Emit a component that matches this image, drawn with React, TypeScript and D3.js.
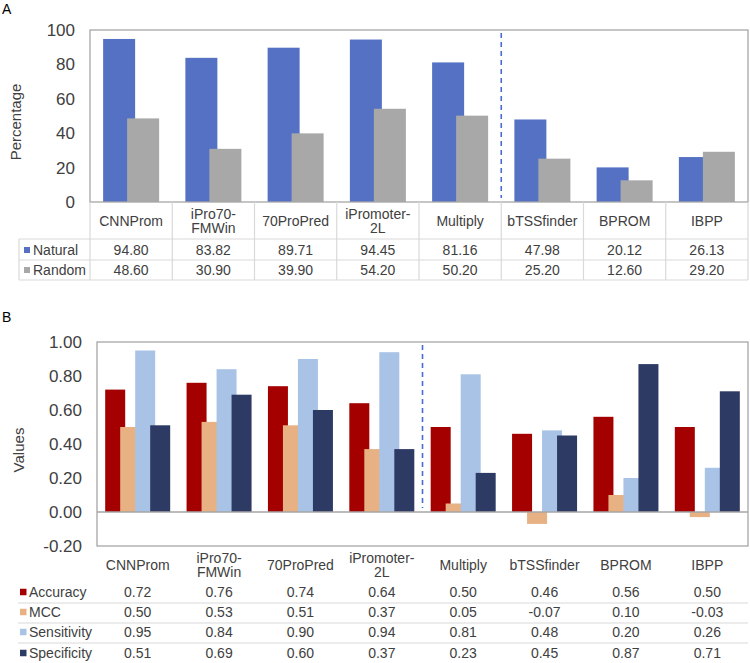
import { useEffect, useRef } from "react";
import { select, scaleBand, scaleLinear, axisLeft } from "d3";

const WIDTH = 750;
const HEIGHT = 663;
const FONT = "Arial, 'Liberation Sans', sans-serif";
const TEXT = "#404040";
const BORDER = "#a6a6a6";
const TABLE_LINE = "#d9d9d9";

// categories shared by both panels
const categories = [
  "CNNProm",
  "iPro70-FMWin",
  "70ProPred",
  "iPromoter-2L",
  "Multiply",
  "bTSSfinder",
  "BPROM",
  "IBPP",
];

// panel A
const seriesA = ["Natural", "Random"];
const natural = [94.8, 83.82, 89.71, 94.45, 81.16, 47.98, 20.12, 26.13];
const random = [48.6, 30.9, 39.9, 54.2, 50.2, 25.2, 12.6, 29.2];
const ticksA = [0, 20, 40, 60, 80, 100];
const colorsA = ["#5571c4", "#a9a8a9"];

// panel B
const seriesB = ["Accuracy", "MCC", "Sensitivity", "Specificity"];
const accuracy = [0.72, 0.76, 0.74, 0.64, 0.5, 0.46, 0.56, 0.5];
const mcc = [0.5, 0.53, 0.51, 0.37, 0.05, -0.07, 0.1, -0.03];
const sensitivity = [0.95, 0.84, 0.9, 0.94, 0.81, 0.48, 0.2, 0.26];
const specificity = [0.51, 0.69, 0.6, 0.37, 0.23, 0.45, 0.87, 0.71];
const ticksB = [-0.2, 0, 0.2, 0.4, 0.6, 0.8, 1.0];
const colorsB = ["#a40000", "#e7b184", "#a8c3e6", "#2d3a63"];

type PanelConfig = {
  letter: string;
  letterY: number;
  series: string[];
  values: number[][];
  colors: string[];
  domain: [number, number];
  ticks: number[];
  tickFormat: (d: number) => string;
  valueFormat: (d: number) => string;
  left: number;
  right: number;
  top: number;
  bottom: number;
  barWidth: number;
  barStep: number;
  yTitle: string;
  yTitleX: number;
  dividerAt: number;
  labelY: number;
  rowY: number[];
  rowLines: number[];
  tableLeft: number;
  verticals: boolean;
  keyX: number;
  keySize: number;
  keyTextX: number;
};

const drawPanel = (svg: any, cfg: PanelConfig) => {
  const y = scaleLinear(cfg.domain, [cfg.bottom, cfg.top]);
  const x = scaleBand(categories, [cfg.left, cfg.right]);
  const g = svg.append("g");

  // 面板字母
  g.append("text")
    .text(cfg.letter)
    .attr("x", 2)
    .attr("y", cfg.letterY)
    .attr("font-size", 14)
    .attr("font-family", FONT)
    .attr("fill", "#000");

  // 柱子（后画的系列盖在前面的上面）
  const groupWidth = (cfg.series.length - 1) * cfg.barStep + cfg.barWidth;
  cfg.series.forEach((s, si) => {
    g.append("g")
      .selectAll("rect")
      .data(cfg.values[si])
      .enter()
      .append("rect")
      .attr(
        "x",
        (d: number, i: number) =>
          (x(categories[i]) as number) + x.bandwidth() / 2 - groupWidth / 2 + si * cfg.barStep
      )
      .attr("y", (d: number) => y(Math.max(d, 0)))
      .attr("width", cfg.barWidth)
      .attr("height", (d: number) => Math.abs(y(d) - y(0)))
      .attr("fill", cfg.colors[si]);
  });

  // 零线
  if (cfg.domain[0] < 0) {
    g.append("line")
      .attr("x1", cfg.left)
      .attr("x2", cfg.right)
      .attr("y1", y(0))
      .attr("y2", y(0))
      .attr("stroke", BORDER)
      .attr("stroke-width", 1.5);
  }

  // 绘图区边框
  g.append("rect")
    .attr("x", cfg.left)
    .attr("y", cfg.top)
    .attr("width", cfg.right - cfg.left)
    .attr("height", cfg.bottom - cfg.top)
    .attr("fill", "none")
    .attr("stroke", BORDER)
    .attr("stroke-width", 1.3);

  // 分隔虚线
  const dx = x(categories[cfg.dividerAt]) as number;
  g.append("line")
    .attr("x1", dx)
    .attr("x2", dx)
    .attr("y1", cfg.top + 3)
    .attr("y2", y(0) - 4)
    .attr("stroke", "#4a6cd0")
    .attr("stroke-width", 1.6)
    .attr("stroke-dasharray", "5,4");

  // y 轴
  const axis = g
    .append("g")
    .attr("transform", `translate(${cfg.left},0)`)
    .call(
      axisLeft(y)
        .tickValues(cfg.ticks)
        .tickSize(0)
        .tickPadding(15)
        .tickFormat((d: any) => cfg.tickFormat(d))
    );
  axis.select(".domain").remove();
  axis
    .selectAll("text")
    .attr("font-size", 17)
    .attr("font-family", FONT)
    .attr("fill", TEXT);

  g.append("text")
    .text(cfg.yTitle)
    .attr("transform", `translate(${cfg.yTitleX},${(cfg.top + cfg.bottom) / 2 + 6}) rotate(-90)`)
    .attr("text-anchor", "middle")
    .attr("dominant-baseline", "central")
    .attr("font-size", 15)
    .attr("font-family", FONT)
    .attr("fill", TEXT);

  // 表格线
  cfg.rowLines.forEach((ly) => {
    g.append("line")
      .attr("x1", cfg.tableLeft)
      .attr("x2", cfg.right)
      .attr("y1", ly)
      .attr("y2", ly)
      .attr("stroke", TABLE_LINE)
      .attr("stroke-width", 1.2);
  });
  if (cfg.verticals) {
    const lastLine = cfg.rowLines[cfg.rowLines.length - 1];
    const bounds = categories.map((c) => x(c) as number).concat([cfg.right]);
    bounds.forEach((bx) => {
      g.append("line")
        .attr("x1", bx)
        .attr("x2", bx)
        .attr("y1", cfg.bottom)
        .attr("y2", lastLine)
        .attr("stroke", TABLE_LINE)
        .attr("stroke-width", 1.2);
    });
    g.append("line")
      .attr("x1", cfg.tableLeft)
      .attr("x2", cfg.tableLeft)
      .attr("y1", cfg.rowLines[0])
      .attr("y2", lastLine)
      .attr("stroke", TABLE_LINE)
      .attr("stroke-width", 1.2);
  }

  // 类别标签（按连字符换行）
  categories.forEach((c) => {
    const lines = c.split(/(?<=-)/);
    const cx = (x(c) as number) + x.bandwidth() / 2;
    lines.forEach((line, li) => {
      g.append("text")
        .text(line)
        .attr("x", cx)
        .attr("y", cfg.labelY + (li - (lines.length - 1) / 2) * 14.5)
        .attr("text-anchor", "middle")
        .attr("dominant-baseline", "central")
        .attr("font-size", 14)
        .attr("font-family", FONT)
        .attr("fill", TEXT);
    });
  });

  // 数据行
  cfg.series.forEach((s, si) => {
    const ry = cfg.rowY[si];
    g.append("rect")
      .attr("x", cfg.keyX)
      .attr("y", ry - cfg.keySize / 2)
      .attr("width", cfg.keySize)
      .attr("height", cfg.keySize)
      .attr("fill", cfg.colors[si]);
    g.append("text")
      .text(s)
      .attr("x", cfg.keyTextX)
      .attr("y", ry)
      .attr("dominant-baseline", "central")
      .attr("font-size", 14)
      .attr("font-family", FONT)
      .attr("fill", TEXT);
    cfg.values[si].forEach((v, i) => {
      g.append("text")
        .text(cfg.valueFormat(v))
        .attr("x", (x(categories[i]) as number) + x.bandwidth() / 2)
        .attr("y", ry)
        .attr("text-anchor", "middle")
        .attr("dominant-baseline", "central")
        .attr("font-size", 14)
        .attr("font-family", FONT)
        .attr("fill", TEXT);
    });
  });
};

const App = () => {
  const ref = useRef<SVGSVGElement>(null);

  useEffect(() => {
    if (!ref.current) return;
    const svg = select(ref.current);
    svg.selectAll("*").remove();

    drawPanel(svg, {
      letter: "A",
      letterY: 14,
      series: seriesA,
      values: [natural, random],
      colors: colorsA,
      domain: [0, 100],
      ticks: ticksA,
      tickFormat: (d) => String(d),
      valueFormat: (d) => d.toFixed(2),
      left: 90,
      right: 748,
      top: 30,
      bottom: 202,
      barWidth: 32,
      barStep: 24,
      yTitle: "Percentage",
      yTitleX: 15,
      dividerAt: 5,
      labelY: 221,
      rowY: [250, 270],
      rowLines: [239, 260, 280],
      tableLeft: 19,
      verticals: true,
      keyX: 24,
      keySize: 6,
      keyTextX: 33,
    });

    drawPanel(svg, {
      letter: "B",
      letterY: 322,
      series: seriesB,
      values: [accuracy, mcc, sensitivity, specificity],
      colors: colorsB,
      domain: [-0.2, 1.0],
      ticks: ticksB,
      tickFormat: (d) => d.toFixed(2),
      valueFormat: (d) => d.toFixed(2),
      left: 97,
      right: 748,
      top: 342,
      bottom: 546,
      barWidth: 20,
      barStep: 15,
      yTitle: "Values",
      yTitleX: 18,
      dividerAt: 4,
      labelY: 565,
      rowY: [592, 612, 632, 653],
      rowLines: [603, 623, 643],
      tableLeft: 18,
      verticals: false,
      keyX: 20,
      keySize: 6.5,
      keyTextX: 29,
    });
  }, []);

  return (
    <div style={{ position: "absolute", left: 0, top: 0 }}>
      <svg ref={ref} width={WIDTH} height={HEIGHT} style={{ display: "block", background: "#fff" }} />
    </div>
  );
};

export default App;
